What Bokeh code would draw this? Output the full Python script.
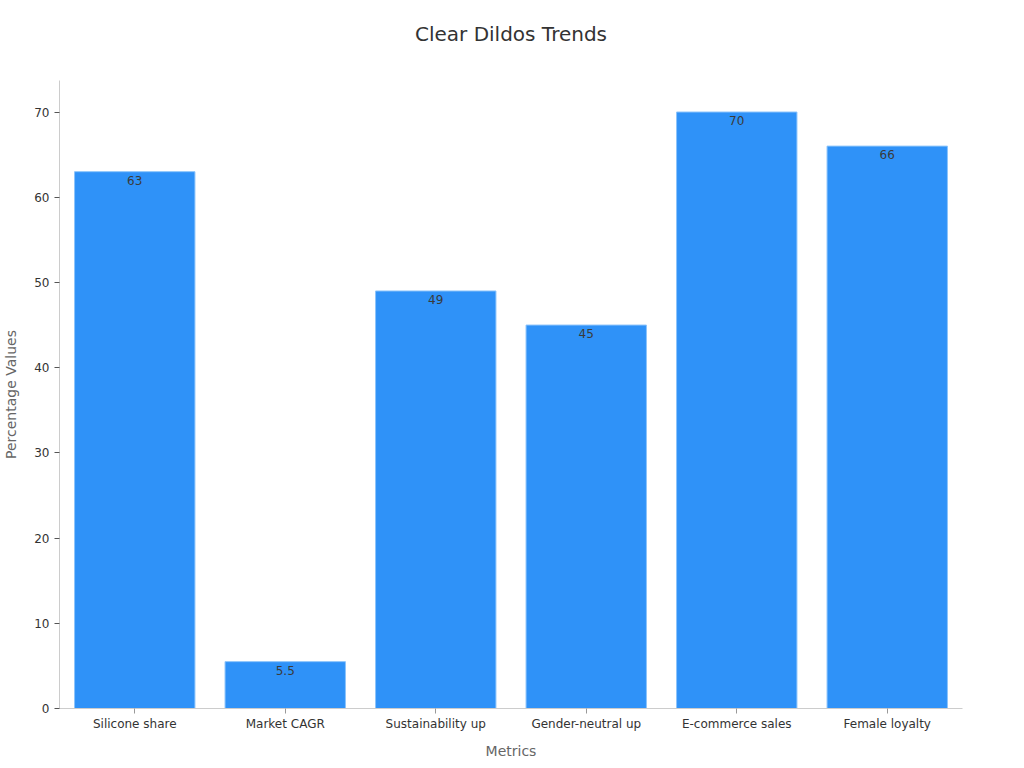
from bokeh.plotting import figure
from bokeh.models import ColumnDataSource, Range1d, FixedTicker, Title
from bokeh.core.properties import value
from bokeh.embed import file_html
from bokeh.resources import INLINE

categories = ["Silicone share", "Market CAGR", "Sustainability up",
              "Gender-neutral up", "E-commerce sales", "Female loyalty"]
values = [63, 5.5, 49, 45, 70, 66]
labels = ["63", "5.5", "49", "45", "70", "66"]
y_ticks = [0, 10, 20, 30, 40, 50, 60, 70]

FONT = "DejaVu Sans"

src = ColumnDataSource(dict(cat=categories, val=values, lab=labels))

p = figure(x_range=categories, y_range=Range1d(0, 73.7),
           frame_width=903, frame_height=628,
           min_border_left=52, min_border_right=45,
           min_border_top=80, min_border_bottom=48,
           output_backend="svg", toolbar_location=None)
p.title = None

spacer = Title(text=" ", text_font=FONT, text_font_size="1px", standoff=27)
p.add_layout(spacer, "above")

t = Title(text="Clear Dildos Trends", align="center",
          text_font=FONT, text_font_size="20px", text_font_style="normal",
          text_color="#333333", standoff=10)
p.add_layout(t, "above")

p.vbar(x="cat", top="val", width=0.8, source=src,
       fill_color="#2F92F8", line_color="#8cc4fb", line_width=1)

p.text(x="cat", y="val", text="lab", source=src,
       text_align="center", text_baseline="top", y_offset=4,
       text_font=value(FONT), text_font_size="12px", text_color="#3a3a3a")

p.xgrid.visible = False
p.ygrid.visible = False
p.outline_line_color = None

p.yaxis.ticker = FixedTicker(ticks=y_ticks)
p.yaxis.axis_label = "Percentage Values"
p.xaxis.axis_label = "Metrics"
for ax in (p.xaxis[0], p.yaxis[0]):
    ax.axis_line_color = "#cccccc"
    ax.major_tick_line_color = "#999999"
    ax.minor_tick_line_color = None
    ax.major_tick_in = 0
    ax.major_tick_out = 5
    ax.major_label_text_font = FONT
    ax.major_label_text_font_size = "12px"
    ax.major_label_text_color = "#333333"
    ax.axis_label_text_font = FONT
    ax.axis_label_text_font_size = "14px"
    ax.axis_label_text_font_style = "normal"
    ax.axis_label_text_color = "#666666"
p.yaxis.major_tick_line_color = "#555555"
p.xaxis.major_label_standoff = 3
p.xaxis.axis_label_standoff = 9
p.yaxis.axis_label_standoff = 12

open("out.html", "w").write(file_html(p, INLINE))
